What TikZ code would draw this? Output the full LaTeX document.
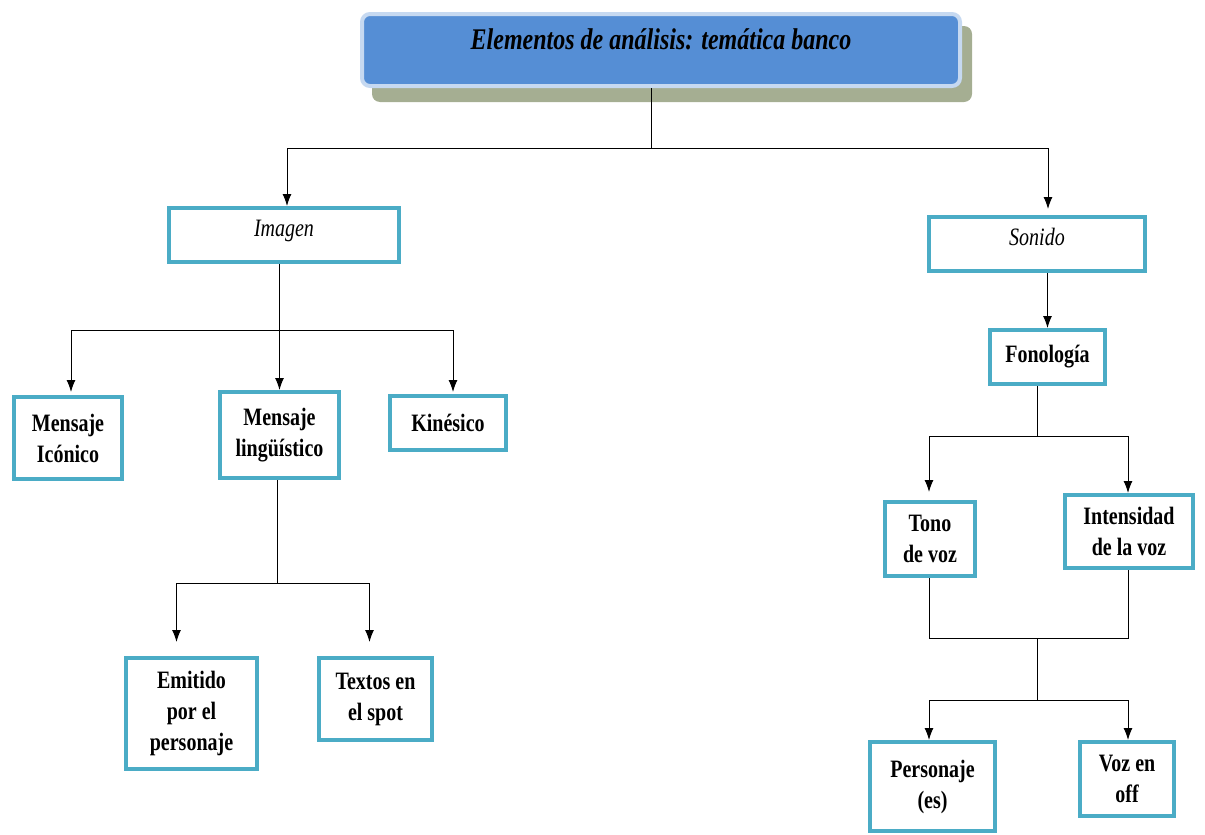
\documentclass[tikz,border=0pt]{standalone}
\usepackage{fontspec}
\setmainfont{Liberation Serif}[FakeStretch=0.8]
\usetikzlibrary{arrows.meta}
\definecolor{boxline}{HTML}{4BACC6}
\definecolor{titlefill}{HTML}{558ED5}
\definecolor{titleline}{HTML}{C6D9F1}
\definecolor{shadowc}{HTML}{A5AE92}
\tikzset{
  box/.style={draw=boxline, line width=4pt, fill=white, align=center, inner sep=0pt,
    font=\fontsize{25}{31}\selectfont\bfseries},
  ibox/.style={box, text depth=14pt, font=\fontsize{25}{30}\selectfont\itshape},
  link/.style={line width=1pt},
  arr/.style={link, -{Latex[length=12pt,width=9pt]}}
}
\begin{document}
\begin{tikzpicture}[x=1pt,y=-1pt]
\useasboundingbox (0,0) rectangle (1205,835);
% titulo
\fill[shadowc, rounded corners=8pt] (372,26) rectangle (972,102);
\node[draw=titleline, fill=titlefill, line width=4pt, rounded corners=8pt, minimum width=598pt, minimum height=72pt,
  text depth=22pt, font=\fontsize{30}{34}\selectfont\bfseries\itshape] (top) at (661,50) {Elementos de análisis: temática banco};
% primer nivel
\node[ibox, minimum width=230pt, minimum height=54pt] (imagen) at (284,235) {Imagen};
\node[ibox, minimum width=216pt, minimum height=54pt] (sonido) at (1037,244) {Sonido};
% rama imagen
\node[box, minimum width=108pt, minimum height=82pt] (icon) at (68,438) {Mensaje\\Icónico};
\node[box, minimum width=119pt, minimum height=86pt] (ling) at (279.5,435) {Mensaje\\lingüístico};
\node[box, minimum width=116pt, minimum height=54pt] (kine) at (448,423) {Kinésico};
\node[box, minimum width=131pt, minimum height=111pt] (emit) at (191.5,713.5) {Emitido\\por el\\personaje};
\node[box, minimum width=113pt, minimum height=82pt] (textos) at (375.5,699) {Textos en\\el spot};
% rama sonido
\node[box, minimum width=115pt, minimum height=54pt] (fono) at (1047.5,357) {Fonología};
\node[box, minimum width=90pt, minimum height=74pt] (tono) at (930,539) {Tono\\de voz};
\node[box, minimum width=128pt, minimum height=73pt] (inten) at (1129,531.5) {Intensidad\\de la voz};
\node[box, minimum width=125pt, minimum height=89pt] (perso) at (932.5,786.5) {Personaje\\(es)};
\node[box, minimum width=94pt, minimum height=74pt] (voz) at (1127,779) {Voz en\\off};
% puntos de reparto
\coordinate (t1) at (651,148);
\coordinate (i1) at (279.5,330);
\coordinate (l1) at (277,583);
\coordinate (f1) at (1037,436);
\coordinate (m1) at (1037,638);
\coordinate (m2) at (1037,700);
% conectores
\draw[link] (t1 |- top.south) -- (t1);
\draw[arr] (t1) -| ([xshift=3pt]imagen.north);
\draw[arr, shorten >=6pt] (t1) -| ([xshift=11pt]sonido.north);
\draw[link] (i1 |- imagen.south) -- (i1);
\draw[arr, shorten >=3pt] (i1) -| ([xshift=3pt]icon.north);
\draw[arr] (i1) -- (ling.north);
\draw[arr, shorten >=2pt] (i1) -| ([xshift=5pt]kine.north);
\draw[link] (l1 |- ling.south) -- (l1);
\draw[arr, shorten >=14pt] (l1) -| ([xshift=-15pt]emit.north);
\draw[arr, shorten >=14pt] (l1) -| ([xshift=-6pt]textos.north);
\draw[arr] (sonido.south -| fono.north) -- (fono.north);
\draw[link] (f1 |- fono.south) -- (f1);
\draw[arr, shorten >=8pt] (f1) -| ([xshift=-1pt]tono.north);
\draw[arr] (f1) -| ([xshift=-1pt]inten.north);
\draw[link] ([xshift=-1pt]tono.south) |- (m1);
\draw[link] ([xshift=-1pt]inten.south) |- (m1);
\draw[link] (m1) -- (m2);
\draw[arr] (m2) -| ([xshift=-3.5pt]perso.north);
\draw[arr] (m2) -| ([xshift=1pt]voz.north);
\end{tikzpicture}
\end{document}
